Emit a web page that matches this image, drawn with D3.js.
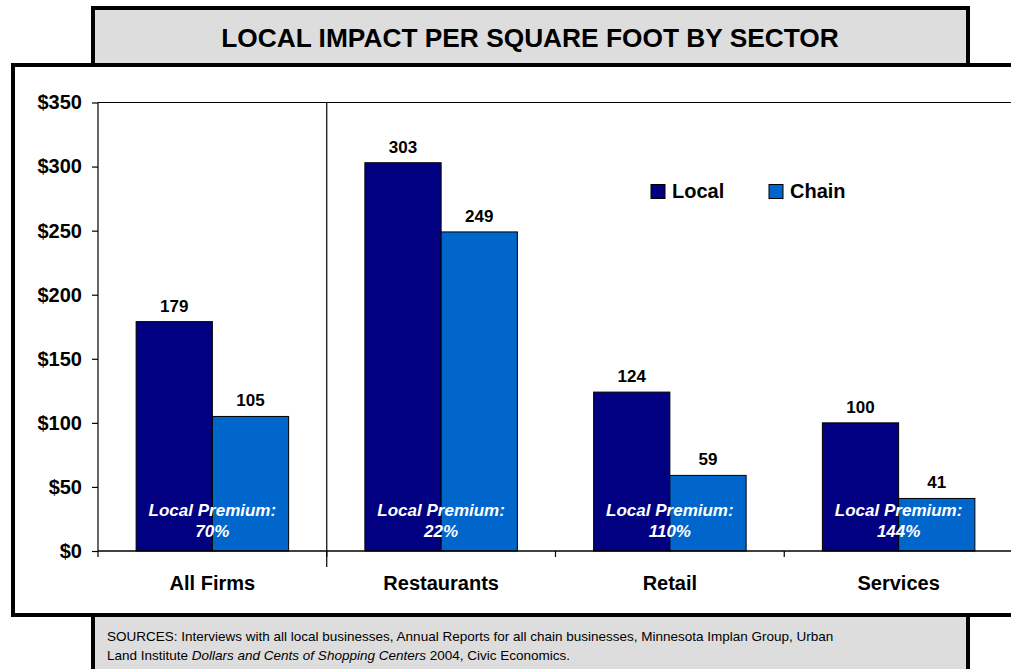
<!DOCTYPE html>
<html>
<head>
<meta charset="utf-8">
<script src="https://cdn.jsdelivr.net/npm/d3@7"></script>
<style>
html,body{margin:0;padding:0;background:#fff;}
svg{display:block;font-family:Arial,"Liberation Sans",sans-serif;}
</style>
</head>
<body>
<svg id="chart" width="1011" height="669"></svg>
<script>
const categories = ["All Firms", "Restaurants", "Retail", "Services"];
const seriesNames = ["Local", "Chain"];
const localValues = [179, 303, 124, 100];
const chainValues = [105, 249, 59, 41];
const premiumLabels = ["70%", "22%", "110%", "144%"];
const yTickValues = [0, 50, 100, 150, 200, 250, 300, 350];
const titleText = "LOCAL IMPACT PER SQUARE FOOT BY SECTOR";
const sourceLine1 = "SOURCES: Interviews with all local businesses, Annual Reports for all chain businesses, Minnesota Implan Group, Urban";

const colors = {Local: "#000080", Chain: "#0066CC"};
const svg = d3.select("#chart");

// main frame
svg.append("rect").attr("x", 13).attr("y", 65).attr("width", 1020).attr("height", 550)
  .attr("fill", "#fff").attr("stroke", "#000").attr("stroke-width", 4);

// title box
svg.append("rect").attr("x", 93).attr("y", 8).attr("width", 875).attr("height", 57)
  .attr("fill", "#DDDDDD").attr("stroke", "#000").attr("stroke-width", 4);
svg.append("text").attr("x", 530).attr("y", 47).attr("text-anchor", "middle")
  .attr("font-size", 26.3).attr("font-weight", "bold").text(titleText);

// sources box
svg.append("rect").attr("x", 93).attr("y", 615).attr("width", 875).attr("height", 70)
  .attr("fill", "#DDDDDD").attr("stroke", "#000").attr("stroke-width", 4);
const src = svg.append("g").attr("font-size", 13.5).attr("fill", "#000");
src.append("text").attr("x", 107).attr("y", 641).text(sourceLine1);
const l2 = src.append("text").attr("x", 107).attr("y", 660);
l2.append("tspan").text("Land Institute ");
l2.append("tspan").attr("font-style", "italic").text("Dollars and Cents of Shopping Centers");
l2.append("tspan").text(" 2004, Civic Economics.");

// scales
const x = d3.scaleBand().domain(categories).range([98, 1013]).padding(0);
const xi = d3.scaleBand().domain(seriesNames).range([0, x.bandwidth()]).paddingInner(0).paddingOuter(0.5);
const y = d3.scaleLinear().domain([0, 350]).range([551, 102.5]);

// top plot border
svg.append("line").attr("x1", 98).attr("x2", 1011).attr("y1", y(350)).attr("y2", y(350))
  .attr("stroke", "#000").attr("stroke-width", 1.2);
// separator line after first category
svg.append("line").attr("x1", x("Restaurants")).attr("x2", x("Restaurants"))
  .attr("y1", y(350)).attr("y2", 567).attr("stroke", "#000").attr("stroke-width", 1.2);

// bars
const data = categories.map((c, i) => ({cat: c, vals: [{s: "Local", v: localValues[i]}, {s: "Chain", v: chainValues[i]}], prem: premiumLabels[i]}));
const groups = svg.append("g").selectAll("g").data(data).join("g")
  .attr("transform", d => `translate(${x(d.cat)},0)`);
groups.selectAll("rect").data(d => d.vals).join("rect")
  .attr("x", d => xi(d.s)).attr("width", xi.bandwidth())
  .attr("y", d => y(d.v)).attr("height", d => y(0) - y(d.v))
  .attr("fill", d => colors[d.s]).attr("stroke", "#000").attr("stroke-width", 1);
groups.selectAll("text.val").data(d => d.vals).join("text").attr("class", "val")
  .attr("x", d => xi(d.s) + xi.bandwidth() / 2).attr("y", d => y(d.v) - 10)
  .attr("text-anchor", "middle").attr("font-size", 17).attr("font-weight", "bold")
  .text(d => d.v);
groups.append("text").attr("x", x.bandwidth() / 2).attr("y", 516)
  .attr("text-anchor", "middle").attr("font-size", 17).attr("font-weight", "bold")
  .attr("font-style", "italic").attr("fill", "#fff").text("Local Premium:");
groups.append("text").attr("x", x.bandwidth() / 2).attr("y", 537)
  .attr("text-anchor", "middle").attr("font-size", 17).attr("font-weight", "bold")
  .attr("font-style", "italic").attr("fill", "#fff").text(d => d.prem);

// y axis
const yAxis = svg.append("g").attr("transform", "translate(98,0)")
  .call(d3.axisLeft(y).tickValues(yTickValues).tickSize(6).tickPadding(10).tickFormat(d => "$" + d));
yAxis.select(".domain").remove();
yAxis.append("line").attr("x1", 0).attr("x2", 0).attr("y1", y(350)).attr("y2", 557).attr("stroke", "#000").attr("stroke-width", 1.2);
yAxis.selectAll(".tick line").attr("stroke", "#000").attr("stroke-width", 1.2);
yAxis.selectAll(".tick text").attr("font-size", 20).attr("font-weight", "bold")
  .attr("font-family", "Arial,'Liberation Sans',sans-serif").attr("fill", "#000");

// x axis
const xAxis = svg.append("g").attr("transform", `translate(0,${y(0)})`)
  .call(d3.axisBottom(x).tickSize(0).tickPadding(0));
xAxis.select(".domain").attr("d", `M98,0H1013`).attr("stroke", "#000").attr("stroke-width", 1.5);
xAxis.selectAll(".tick text").attr("y", 39).attr("dy", 0).attr("font-size", 20).attr("font-weight", "bold")
  .attr("font-family", "Arial,'Liberation Sans',sans-serif").attr("fill", "#000");
xAxis.selectAll("line.sep").data(categories.slice(1)).join("line").attr("class", "sep")
  .attr("x1", d => x(d)).attr("x2", d => x(d)).attr("y1", 0).attr("y2", 6)
  .attr("stroke", "#000").attr("stroke-width", 1.2);

// legend
const legend = svg.append("g");
const legendX = [651, 769];
seriesNames.forEach((s, i) => {
  legend.append("rect").attr("x", legendX[i]).attr("y", 184.5).attr("width", 14).attr("height", 14)
    .attr("fill", colors[s]).attr("stroke", "#000").attr("stroke-width", 1);
  legend.append("text").attr("x", legendX[i] + 21).attr("y", 198).attr("font-size", 20)
    .attr("font-weight", "bold").text(s);
});
</script>
</body>
</html>
